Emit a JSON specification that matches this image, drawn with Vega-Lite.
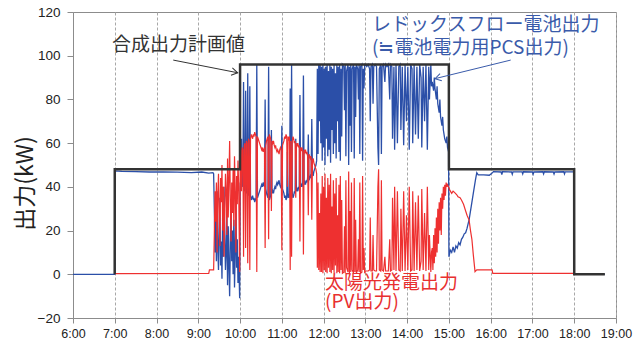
{
"$schema": "https://vega.github.io/schema/vega-lite/v6.json",
"width": 543, "height": 306,
"autosize": {"type": "none"},
"padding": {"left": 73, "top": 12, "right": 22, "bottom": 27},
"background": "white",
"config": {"view": {"stroke": "#8c8c8c", "strokeWidth": 1}, "font": "Liberation Sans"},
"datasets": {
"plan": [{"m":419.9,"v":0},{"m":420,"v":48},{"m":599.9,"v":48},{"m":600,"v":96},{"m":899.9,"v":96},{"m":900,"v":48},{"m":1079.9,"v":48},{"m":1080,"v":0},{"m":1124,"v":0}],
"rf": [{"m":360,"v":0},{"m":419.9,"v":0},{"m":420,"v":47.3},{"m":430,"v":47.1},{"m":450,"v":47.0},{"m":470,"v":46.8},{"m":490,"v":46.9},{"m":510,"v":46.7},{"m":530,"v":46.5},{"m":545,"v":46.8},{"m":555,"v":46.3},{"m":561,"v":46.5},
{"m":562,"v":46},{"m":563,"v":30},{"m":564,"v":10},{"m":565,"v":25},{"m":566,"v":6},{"m":567,"v":38},{"m":568,"v":12},{"m":569,"v":2},{"m":570,"v":20},{"m":571,"v":35},{"m":572,"v":4},{"m":573,"v":15},{"m":574,"v":-2},{"m":575,"v":28},{"m":576,"v":8},{"m":577,"v":40},{"m":578,"v":18},{"m":579,"v":2},{"m":580,"v":10},{"m":581,"v":30},{"m":582,"v":-5},{"m":583,"v":22},{"m":584,"v":5},{"m":585,"v":-10},{"m":586,"v":14},{"m":587,"v":33},{"m":588,"v":6},{"m":589,"v":20},{"m":590,"v":0},{"m":591,"v":25},{"m":592,"v":-6},{"m":593,"v":10},{"m":594,"v":38},{"m":595,"v":3},{"m":596,"v":16},{"m":597,"v":-4},{"m":598,"v":8},{"m":599.4,"v":-11},
{"m":600.3,"v":42},{"m":601,"v":41},{"m":602,"v":62},{"m":603,"v":40},{"m":604,"v":41},{"m":605,"v":88},{"m":606,"v":39},{"m":607,"v":38},{"m":608,"v":84},{"m":609,"v":37},{"m":610,"v":38},{"m":611,"v":92},{"m":612,"v":36},{"m":613,"v":37},{"m":614,"v":86},{"m":615,"v":36},{"m":616,"v":34},{"m":617,"v":35},{"m":618,"v":36},{"m":619,"v":34},{"m":620,"v":35},{"m":621,"v":33},{"m":622,"v":34},{"m":623,"v":35},{"m":624,"v":96},{"m":625,"v":35},{"m":626,"v":36},{"m":627,"v":37},{"m":628,"v":38},{"m":629,"v":39},{"m":630,"v":40},{"m":631,"v":41},{"m":632,"v":40},{"m":633,"v":42},{"m":634,"v":41},{"m":635,"v":40},{"m":636,"v":80},{"m":637,"v":39},{"m":638,"v":37},{"m":639,"v":36},{"m":640,"v":35},{"m":641,"v":95},{"m":642,"v":34},{"m":643,"v":35},{"m":644,"v":36},{"m":645,"v":66},{"m":646,"v":37},{"m":647,"v":38},{"m":648,"v":37},{"m":649,"v":39},{"m":650,"v":40},{"m":651,"v":39},{"m":652,"v":41},{"m":653,"v":42},{"m":654,"v":41},{"m":655,"v":42},{"m":656,"v":43},{"m":657,"v":41},{"m":658,"v":40},{"m":659,"v":41},{"m":660,"v":68},{"m":661,"v":39},{"m":662,"v":38},{"m":663,"v":37},{"m":664,"v":35},{"m":665,"v":36},{"m":666,"v":34},{"m":667,"v":35},{"m":668,"v":56},{"m":669,"v":35},{"m":670,"v":36},{"m":671,"v":35},{"m":672,"v":85},{"m":673,"v":37},{"m":674,"v":96},{"m":675,"v":37},{"m":676,"v":35},{"m":677,"v":36},{"m":678,"v":38},{"m":679,"v":37},{"m":680,"v":62},{"m":681,"v":38},{"m":682,"v":39},{"m":683,"v":38},{"m":684,"v":40},{"m":685,"v":39},{"m":686,"v":82},{"m":687,"v":40},{"m":688,"v":41},{"m":689,"v":40},{"m":690,"v":42},{"m":691,"v":91},{"m":692,"v":41},{"m":693,"v":42},{"m":694,"v":41},{"m":695,"v":43},{"m":696,"v":42},{"m":697,"v":44},{"m":698,"v":64},{"m":699,"v":43},{"m":700,"v":44},{"m":701,"v":45},{"m":702,"v":44},{"m":703,"v":71},{"m":704,"v":46},{"m":705,"v":45},{"m":706,"v":47},{"m":707,"v":48},{"m":708,"v":49},{"m":709,"v":50},{"m":710,"v":52},{"m":711,"v":94},{"m":712,"v":55},{"m":713,"v":96},{"m":714,"v":70},{"m":715,"v":96},
{"m":716,"v":60},{"m":717,"v":95},{"m":718,"v":52},{"m":719,"v":96},{"m":720,"v":58},{"m":721,"v":94},{"m":722,"v":50},{"m":723,"v":95},{"m":724,"v":62},{"m":725,"v":96},{"m":726,"v":54},{"m":727,"v":93},{"m":728,"v":57},{"m":729,"v":96},{"m":730,"v":51},{"m":731,"v":95},{"m":732,"v":66},{"m":733,"v":94},{"m":734,"v":55},{"m":735,"v":96},{"m":736,"v":60},{"m":737,"v":92},{"m":738,"v":53},{"m":739,"v":96},{"m":740,"v":70},{"m":741,"v":95},{"m":742,"v":56},{"m":743,"v":96},{"m":744,"v":52},{"m":745,"v":94},{"m":746,"v":63},{"m":747,"v":96},{"m":749,"v":95},{"m":750,"v":75},{"m":751,"v":96},{"m":752,"v":54},{"m":753,"v":93},{"m":755,"v":96},{"m":756,"v":50},{"m":757,"v":95},{"m":758,"v":68},{"m":759,"v":96},{"m":760,"v":56},{"m":761,"v":94},{"m":763,"v":96},{"m":764,"v":53},{"m":765,"v":95},{"m":766,"v":72},{"m":767,"v":96},{"m":769,"v":94},{"m":770,"v":80},{"m":771,"v":96},{"m":772,"v":55},{"m":773,"v":95},{"m":775,"v":96},{"m":776,"v":52},{"m":777,"v":94},{"m":778,"v":85},{"m":779,"v":96},
{"m":780,"v":96},{"m":782,"v":95},{"m":784,"v":96},{"m":786,"v":94},{"m":787,"v":70},{"m":788,"v":95},{"m":790,"v":96},{"m":791,"v":78},{"m":792,"v":95},{"m":794,"v":96},{"m":796,"v":95},{"m":798,"v":58},{"m":799,"v":50},{"m":800,"v":94},{"m":802,"v":96},{"m":803,"v":55},{"m":804,"v":95},{"m":806,"v":96},{"m":808,"v":88},{"m":809,"v":96},{"m":811,"v":95},{"m":813,"v":96},{"m":815,"v":80},{"m":816,"v":96},{"m":818,"v":95},
{"m":819,"v":62},{"m":821,"v":95},{"m":822,"v":57},{"m":824,"v":96},{"m":826,"v":60},{"m":828,"v":95},{"m":830,"v":96},{"m":831,"v":66},{"m":833,"v":95},{"m":835,"v":59},{"m":837,"v":96},{"m":839,"v":70},{"m":841,"v":95},{"m":843,"v":57},{"m":845,"v":96},{"m":847,"v":94},{"m":848,"v":60},{"m":850,"v":96},{"m":852,"v":64},{"m":854,"v":95},{"m":856,"v":62},{"m":858,"v":96},{"m":860,"v":90},{"m":861,"v":58},{"m":863,"v":95},{"m":865,"v":70},{"m":867,"v":96},{"m":869,"v":57},{"m":871,"v":95},{"m":872,"v":80},{"m":874,"v":96},{"m":875,"v":86},
{"m":876,"v":88},{"m":878,"v":84},{"m":879,"v":90},{"m":880,"v":85},{"m":882,"v":80},{"m":883,"v":86},{"m":884,"v":78},{"m":886,"v":74},{"m":887,"v":80},{"m":888,"v":72},{"m":890,"v":68},{"m":891,"v":72},{"m":892,"v":66},{"m":894,"v":62},{"m":896,"v":60},{"m":897,"v":63},{"m":898,"v":58},{"m":899.5,"v":56},{"m":900,"v":8},{"m":902,"v":11},{"m":904,"v":10},{"m":906,"v":12.5},{"m":908,"v":10},{"m":910,"v":13},{"m":912,"v":12},{"m":914,"v":14.5},{"m":916,"v":13.5},{"m":918,"v":16},{"m":920,"v":17},{"m":922,"v":18.5},{"m":924,"v":19},{"m":926,"v":21},{"m":929,"v":25},{"m":932,"v":31},{"m":935,"v":37},{"m":938,"v":43},{"m":940,"v":46.5},{"m":942,"v":45.5},{"m":950,"v":45.5},{"m":958,"v":45.3},{"m":962,"v":46.3},{"m":964,"v":47.0},{"m":975,"v":46.8},{"m":976,"v":45.6},{"m":977,"v":46.9},{"m":990,"v":46.8},{"m":991,"v":45.8},{"m":992,"v":46.9},{"m":1005,"v":46.9},{"m":1006,"v":45.9},{"m":1007,"v":46.9},{"m":1020,"v":46.8},{"m":1021,"v":45.8},{"m":1022,"v":46.8},{"m":1035,"v":46.9},{"m":1036,"v":45.9},{"m":1037,"v":46.9},{"m":1050,"v":46.8},{"m":1051,"v":45.9},{"m":1052,"v":46.8},{"m":1065,"v":46.9},{"m":1066,"v":45.9},{"m":1067,"v":46.9},{"m":1079.5,"v":46.9},{"m":1080,"v":0},{"m":1124,"v":0}],
"pv": [{"m":420,"v":0.3},{"m":555,"v":0.4},{"m":556,"v":2},{"m":562,"v":2},{"m":563,"v":18},{"m":564,"v":38},{"m":565,"v":24},{"m":566,"v":42},{"m":567,"v":10},{"m":568,"v":36},{"m":569,"v":46},{"m":570,"v":28},{"m":571,"v":13},{"m":572,"v":44},{"m":573,"v":33},{"m":574,"v":50},{"m":575,"v":20},{"m":576,"v":40},{"m":577,"v":8},{"m":578,"v":30},{"m":579,"v":46},{"m":580,"v":38},{"m":581,"v":18},{"m":582,"v":53},{"m":583,"v":26},{"m":584,"v":43},{"m":585,"v":61},{"m":586,"v":34},{"m":587,"v":15},{"m":588,"v":42},{"m":589,"v":28},{"m":590,"v":48},{"m":591,"v":22},{"m":592,"v":54},{"m":593,"v":38},{"m":594,"v":10},{"m":595,"v":45},{"m":596,"v":32},{"m":597,"v":52},{"m":598,"v":40},{"m":599.4,"v":1},
{"m":600.3,"v":56},{"m":601,"v":57},{"m":602,"v":38},{"m":603,"v":58},{"m":604,"v":57},{"m":605,"v":8},{"m":606,"v":59},{"m":607,"v":60},{"m":608,"v":12},{"m":609,"v":61},{"m":610,"v":60},{"m":611,"v":5},{"m":612,"v":62},{"m":613,"v":61},{"m":614,"v":2},{"m":615,"v":62},{"m":616,"v":64},{"m":617,"v":63},{"m":618,"v":62},{"m":619,"v":64},{"m":620,"v":63},{"m":621,"v":65},{"m":622,"v":64},{"m":623,"v":63},{"m":624,"v":1},{"m":625,"v":63},{"m":626,"v":62},{"m":627,"v":61},{"m":628,"v":60},{"m":629,"v":59},{"m":630,"v":58},{"m":631,"v":57},{"m":632,"v":58},{"m":633,"v":56},{"m":634,"v":57},{"m":635,"v":58},{"m":636,"v":12},{"m":637,"v":59},{"m":638,"v":61},{"m":639,"v":62},{"m":640,"v":63},{"m":641,"v":16},{"m":642,"v":64},{"m":643,"v":63},{"m":644,"v":62},{"m":645,"v":29},{"m":646,"v":61},{"m":647,"v":60},{"m":648,"v":61},{"m":649,"v":59},{"m":650,"v":58},{"m":651,"v":59},{"m":652,"v":57},{"m":653,"v":56},{"m":654,"v":57},{"m":655,"v":56},{"m":656,"v":55},{"m":657,"v":57},{"m":658,"v":58},{"m":659,"v":57},{"m":660,"v":11},{"m":661,"v":59},{"m":662,"v":60},{"m":663,"v":61},{"m":664,"v":63},{"m":665,"v":62},{"m":666,"v":64},{"m":667,"v":63},{"m":668,"v":40},{"m":669,"v":63},{"m":670,"v":62},{"m":671,"v":63},{"m":672,"v":2},{"m":673,"v":61},{"m":674,"v":8},{"m":675,"v":61},{"m":676,"v":63},{"m":677,"v":62},{"m":678,"v":60},{"m":679,"v":61},{"m":680,"v":35},{"m":681,"v":60},{"m":682,"v":59},{"m":683,"v":60},{"m":684,"v":58},{"m":685,"v":59},{"m":686,"v":15},{"m":687,"v":58},{"m":688,"v":57},{"m":689,"v":58},{"m":690,"v":56},{"m":691,"v":9},{"m":692,"v":57},{"m":693,"v":56},{"m":694,"v":57},{"m":695,"v":55},{"m":696,"v":56},{"m":697,"v":54},{"m":698,"v":27},{"m":699,"v":55},{"m":700,"v":54},{"m":701,"v":53},{"m":702,"v":54},{"m":703,"v":25},{"m":704,"v":52},{"m":705,"v":53},{"m":706,"v":51},{"m":707,"v":50},{"m":708,"v":49},{"m":709,"v":48},{"m":710,"v":46},{"m":711,"v":3},{"m":712,"v":42},{"m":713,"v":2},{"m":714,"v":28},{"m":715,"v":1},
{"m":716,"v":37},{"m":717,"v":1},{"m":718,"v":45},{"m":719,"v":0.5},{"m":720,"v":40},{"m":721,"v":2},{"m":722,"v":46},{"m":723,"v":1},{"m":724,"v":35},{"m":725,"v":0.5},{"m":726,"v":44},{"m":727,"v":3},{"m":728,"v":41},{"m":729,"v":1},{"m":730,"v":46},{"m":731,"v":0.5},{"m":732,"v":31},{"m":733,"v":2},{"m":734,"v":43},{"m":735,"v":1},{"m":736,"v":37},{"m":737,"v":4},{"m":738,"v":44},{"m":739,"v":0.5},{"m":740,"v":27},{"m":741,"v":1},{"m":742,"v":41},{"m":743,"v":0.5},{"m":744,"v":45},{"m":745,"v":2},{"m":746,"v":34},{"m":747,"v":0.5},{"m":749,"v":1},{"m":750,"v":22},{"m":751,"v":0.5},{"m":752,"v":43},{"m":753,"v":3},{"m":755,"v":1},{"m":756,"v":47},{"m":757,"v":0.5},{"m":758,"v":29},{"m":759,"v":1},{"m":760,"v":42},{"m":761,"v":2},{"m":763,"v":0.5},{"m":764,"v":44},{"m":765,"v":1},{"m":766,"v":25},{"m":767,"v":0.5},{"m":769,"v":2},{"m":770,"v":16},{"m":771,"v":1},{"m":772,"v":42},{"m":773,"v":0.5},{"m":775,"v":1},{"m":776,"v":45},{"m":777,"v":2},{"m":778,"v":12},{"m":779,"v":0.5},
{"m":780,"v":1.5},{"m":782,"v":1.5},{"m":784,"v":1.5},{"m":786,"v":2},{"m":787,"v":26},{"m":788,"v":1.5},{"m":790,"v":1.5},{"m":791,"v":18},{"m":792,"v":2},{"m":794,"v":1.5},{"m":796,"v":1.5},{"m":798,"v":40},{"m":799,"v":48},{"m":800,"v":2},{"m":802,"v":1.5},{"m":803,"v":43},{"m":804,"v":2},{"m":806,"v":1.5},{"m":808,"v":8},{"m":809,"v":1.5},{"m":811,"v":1.5},{"m":813,"v":1.5},{"m":815,"v":16},{"m":816,"v":1.5},{"m":818,"v":2},
{"m":819,"v":35},{"m":821,"v":2},{"m":822,"v":40},{"m":824,"v":1.5},{"m":826,"v":38},{"m":828,"v":2},{"m":830,"v":1.5},{"m":831,"v":30},{"m":833,"v":1.5},{"m":835,"v":38},{"m":837,"v":1.5},{"m":839,"v":27},{"m":841,"v":2},{"m":843,"v":40},{"m":845,"v":1.5},{"m":847,"v":2},{"m":848,"v":38},{"m":850,"v":1.5},{"m":852,"v":33},{"m":854,"v":2},{"m":856,"v":36},{"m":858,"v":1.5},{"m":860,"v":6},{"m":861,"v":39},{"m":863,"v":2},{"m":865,"v":28},{"m":867,"v":1.5},{"m":869,"v":40},{"m":871,"v":2},{"m":872,"v":18},{"m":874,"v":1},{"m":875,"v":10},
{"m":876,"v":12},{"m":877,"v":2},{"m":878,"v":18},{"m":879,"v":5},{"m":880,"v":21},{"m":881,"v":8},{"m":882,"v":26},{"m":883,"v":10},{"m":884,"v":30},{"m":885,"v":14},{"m":886,"v":33},{"m":887,"v":20},{"m":888,"v":35},{"m":889,"v":18},{"m":890,"v":37},{"m":891,"v":30},{"m":892,"v":40},{"m":893,"v":34},{"m":894,"v":41},{"m":895,"v":36},{"m":896,"v":42},{"m":897,"v":40},{"m":898,"v":41},{"m":899.5,"v":40},{"m":901,"v":38.6},{"m":904,"v":37},{"m":906,"v":38},{"m":908,"v":37.5},{"m":911,"v":36.5},{"m":913,"v":35.5},{"m":916,"v":35},{"m":918,"v":34},{"m":921,"v":32},{"m":923,"v":30},{"m":926,"v":27},{"m":929,"v":24.8},{"m":931,"v":20},{"m":933,"v":16},{"m":935,"v":9},{"m":937.5,"v":1.2},{"m":940,"v":2},{"m":962,"v":2},{"m":963,"v":0.4},{"m":1080,"v":0.4}],
"notes": [
{"m":416,"v":104.9,"t":"合成出力計画値","s":"plan"},
{"m":789.5,"v":114,"t":"レドックスフロー電池出力","s":"rf"},
{"m":789.5,"v":103.6,"t":"(≒電池電力用PCS出力)","s":"rf"},
{"m":722,"v":-4.1,"t":"太陽光発電出力","s":"pv"},
{"m":722,"v":-12.5,"t":"(PV出力)","s":"pv"}],
"arrows": [
{"m":504,"v":98,"m2":596.6,"v2":92.2,"s":"plan"},
{"m":988.7,"v":98,"m2":880,"v2":89.5,"s":"rf"}]
},
"encoding": {
"x": {"field": "m", "type": "quantitative", "scale": {"domain": [360, 1140], "nice": false, "zero": false},
 "axis": {"title": null, "values": [360,420,480,540,600,660,720,780,840,900,960,1020,1080,1140],
  "labelExpr": "floor(datum.value/60) + ':00'", "grid": true, "gridDash": [3,2], "gridColor": "#a8a8a8",
  "tickColor": "#8c8c8c", "domainColor": "#8c8c8c", "tickSize": 5, "labelPadding": 4, "labelFontSize": 12.5,
  "labelColor": "#222", "labelFont": "Liberation Sans", "labelOverlap": false, "labelFlush": false}},
"y": {"field": "v", "type": "quantitative", "scale": {"domain": [-20, 120], "nice": false},
 "axis": {"title": "出力(kW)", "titleFont": "Noto Sans CJK JP", "titleFontSize": 23, "titleFontWeight": "normal", "titleColor": "#222",
  "titleX": -48, "titleY": 171, "titleAngle": 270, "titleAlign": "center", "titleBaseline": "middle",
  "values": [-20,0,20,40,60,80,100,120], "grid": false, "tickSize": 6, "labelPadding": 7, "labelFontSize": 13.5,
  "labelColor": "#222", "labelFont": "Liberation Sans", "domainColor": "#8c8c8c", "tickColor": "#8c8c8c"}}
},
"layer": [
{"data": {"name": "rf"}, "mark": {"type": "line", "color": "#2B4FA8", "strokeWidth": 1.3}},
{"data": {"name": "pv"}, "mark": {"type": "line", "color": "#EE3030", "strokeWidth": 1.2}},
{"data": {"name": "plan"}, "mark": {"type": "line", "color": "#333333", "strokeWidth": 2.5}},
{"data": {"name": "arrows"}, "mark": {"type": "rule", "strokeWidth": 1},
 "encoding": {"x2": {"field": "m2"}, "y2": {"field": "v2"},
  "color": {"field": "s", "type": "nominal", "scale": {"domain": ["plan","rf","pv"], "range": ["#333333","#3A5BAA","#E83030"]}, "legend": null}}},
{"data": {"name": "arrows"}, "transform": [{"filter": "datum.s == 'plan'"}],
 "mark": {"type": "point", "shape": "M -1 -0.6 L 0 0 L -1 0.6", "size": 150, "filled": false, "strokeWidth": 1, "angle": 11, "color": "#333333", "opacity": 1},
 "encoding": {"x": {"field": "m2", "type": "quantitative"}, "y": {"field": "v2", "type": "quantitative"}}},
{"data": {"name": "arrows"}, "transform": [{"filter": "datum.s == 'rf'"}],
 "mark": {"type": "point", "shape": "M -1 -0.6 L 0 0 L -1 0.6", "size": 150, "filled": false, "strokeWidth": 1, "angle": 166, "color": "#3A5BAA", "opacity": 1},
 "encoding": {"x": {"field": "m2", "type": "quantitative"}, "y": {"field": "v2", "type": "quantitative"}}},
{"data": {"name": "notes"}, "mark": {"type": "text", "align": "left", "baseline": "middle", "font": "Noto Sans CJK JP", "fontSize": 19},
 "encoding": {"text": {"field": "t"},
  "color": {"field": "s", "type": "nominal", "scale": {"domain": ["plan","rf","pv"], "range": ["#222222","#3A5BAA","#E83030"]}, "legend": null}}}
]
}
